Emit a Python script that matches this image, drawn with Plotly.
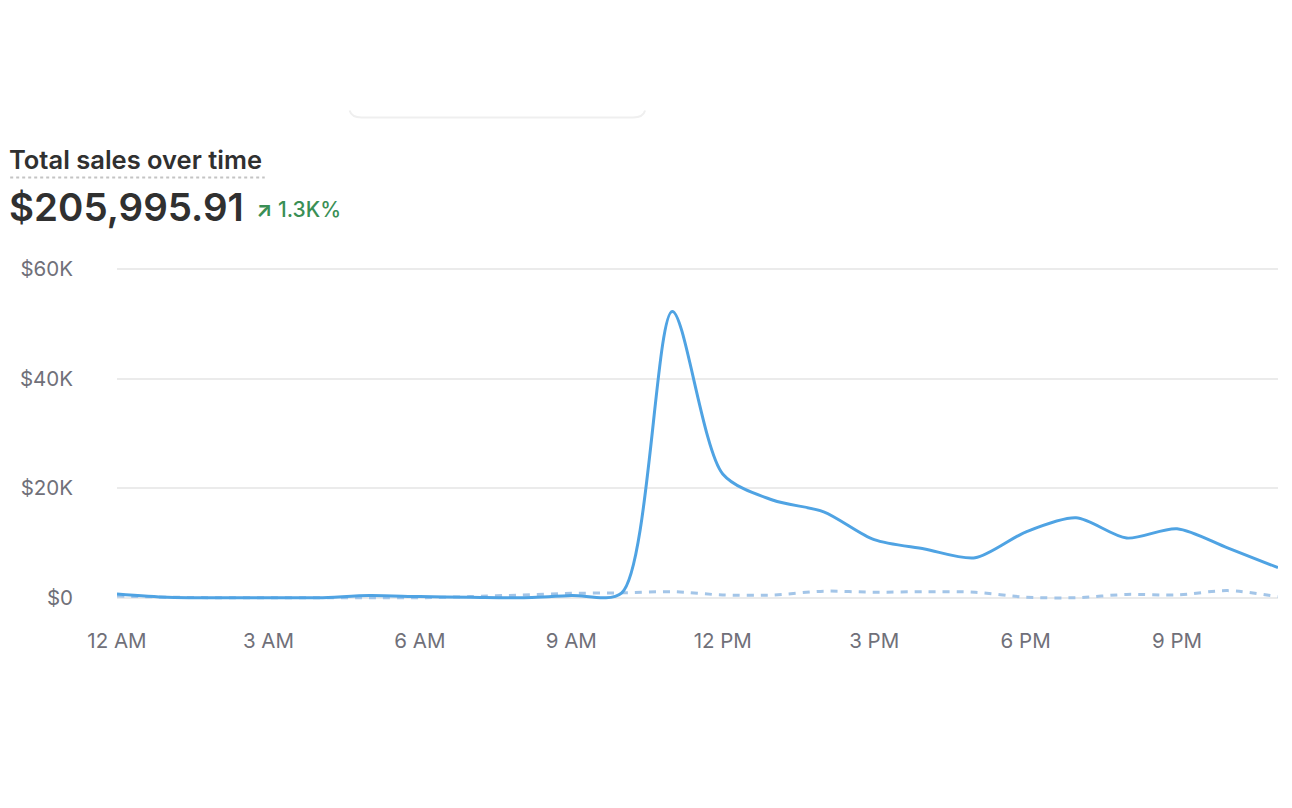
import plotly.graph_objects as go

# Hourly buckets (hours since midnight) and sales values in dollars
hours = list(range(24))
sales_today = [700, 100, 0, 0, 0, 400, 200, 100, 0, 400, 900, 52300,
               22600, 17800, 15700, 10600, 8900, 7300, 12000, 14600, 10900, 12600, 9100, 5500]
sales_compare = [300, 100, 0, 0, 0, 0, 0, 200, 500, 800, 900, 1100,
                 500, 500, 1200, 1000, 1100, 1000, 100, 0, 600, 500, 1300, 200]

tick_hours = [0, 3, 6, 9, 12, 15, 18, 21]
tick_labels = ["12 AM", "3 AM", "6 AM", "9 AM", "12 PM", "3 PM", "6 PM", "9 PM"]
y_ticks = [0, 20000, 40000, 60000]
y_labels = ["$0", "$20K", "$40K", "$60K"]

W, H = 1292, 808
OFF = 8  # the page body margin pushes the figure 8px right and down
# plot area on the page, in pixels
P_LEFT, P_RIGHT, P_TOP, P_BOTTOM = 115, 1278, 265.7, 601.3
L = P_LEFT - OFF
R = W - (P_RIGHT - OFF)
T = P_TOP - OFF
B = H - (P_BOTTOM - OFF)


def px(x):
    # page pixel -> paper x
    return (x - P_LEFT) / (P_RIGHT - P_LEFT)


def py(y):
    # page pixel -> paper y
    return (P_BOTTOM - y) / (P_BOTTOM - P_TOP)


fig = go.Figure()

# comparison period, light dashed line
fig.add_trace(go.Scatter(
    x=hours, y=sales_compare, mode="lines",
    line=dict(color="#a3c5e8", width=3, dash="7px,7px", shape="spline", smoothing=0.8),
    hoverinfo="skip", showlegend=False,
))

# current period
fig.add_trace(go.Scatter(
    x=hours, y=sales_today, mode="lines",
    line=dict(color="#4fa3e3", width=3, shape="spline", smoothing=0.8),
    showlegend=False,
))

fig.update_xaxes(
    range=[0, 23], tickvals=tick_hours, ticktext=tick_labels,
    showgrid=False, zeroline=False, showline=False, ticks="",
    tickfont=dict(family="Inter", size=20.5, color="#707079"),
    ticklabelstandoff=25,
)
fig.update_yaxes(
    range=[-600, 60600], tickvals=y_ticks, ticktext=y_labels,
    showgrid=True, gridcolor="#ebebeb", gridwidth=1.5, zeroline=False,
    showline=False, ticks="",
    tickfont=dict(family="Inter", size=20.5, color="#707079"),
    ticklabelstandoff=43,
)

fig.update_layout(
    width=W, height=H,
    margin=dict(l=L, r=R, t=T, b=B),
    paper_bgcolor="white", plot_bgcolor="white",
    font=dict(family="Inter"),
    annotations=[
        dict(x=px(5), y=py(159), xref="paper", yref="paper", xanchor="left", yanchor="middle",
             text="Total sales over time", showarrow=False,
             font=dict(family="Inter", size=25.5, weight=600, color="#303030")),
        dict(x=px(5), y=py(207), xref="paper", yref="paper", xanchor="left", yanchor="middle",
             text="$205,995.91", showarrow=False,
             font=dict(family="Inter", size=38.5, weight=600, color="#303030")),
        dict(x=px(252), y=py(209), xref="paper", yref="paper", xanchor="left", yanchor="middle",
             text="<b>↗</b> 1.3K%", showarrow=False,
             font=dict(family="Inter", size=21, weight=500, color="#3a8f55")),
    ],
    shapes=[
        # dotted underline below the title
        dict(type="line", xref="paper", yref="paper", x0=px(8), x1=px(263), y0=py(177), y1=py(177),
             line=dict(color="#c4c4c4", width=2, dash="dot")),
        # baseline at $0
        dict(type="line", xref="paper", yref="y", x0=0, x1=1, y0=0, y1=0,
             line=dict(color="#e3e3e3", width=1.5), layer="below"),
        # faint edge of a card above the chart
        dict(type="path", xref="paper", yref="paper",
             path=f"M {px(348)},{py(110)} Q {px(350)},{py(117)} {px(360)},{py(117)} "
                  f"L {px(632)},{py(117)} Q {px(642)},{py(117)} {px(644)},{py(110)}",
             line=dict(color="#efefef", width=2)),
    ],
)

fig.write_html("out.html")
